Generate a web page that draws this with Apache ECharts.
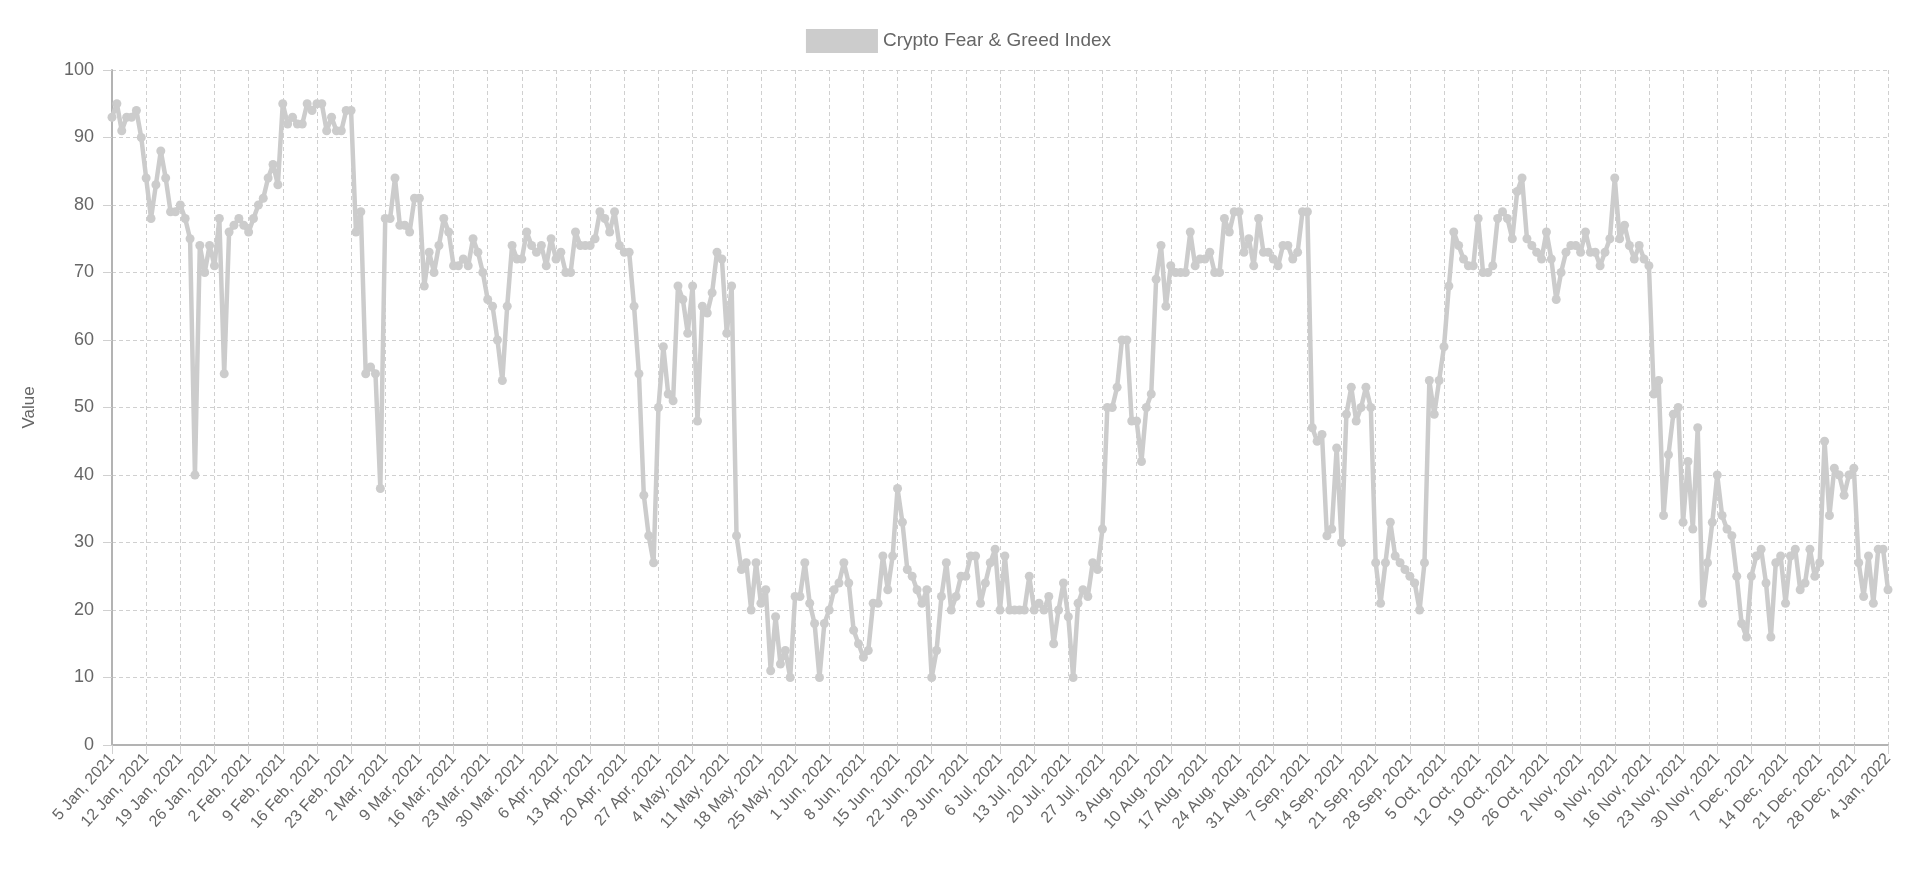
<!DOCTYPE html>
<html>
<head>
<meta charset="utf-8">
<script src="https://cdn.jsdelivr.net/npm/echarts@6/dist/echarts.min.js"></script>
<style>
html,body{margin:0;padding:0;background:#fff;}
#chart{width:1917px;height:887px;}
</style>
</head>
<body>
<div id="chart"></div>
<script>
// Daily index values, 5 Jan 2021 .. 4 Jan 2022
const seriesName = 'Crypto Fear & Greed Index';
const startDate = [2021, 0, 5];
const valuesQ1 = [
  93,95,91,93,93,94,90, 84,78,83,88,84,79,79, 80,78,75,40,74,70,74,
  71,78,55,76,77,78,77, 76,78,80,81,84,86,83, 95,92,93,92,92,95,94,
  95,95,91,93,91,91,94, 94,76,79,55,56,55,38, 78,78,84,77,77,76,81,
  81,68,73,70,74,78,76, 71,71,72,71,75,73,70, 66,65,60,54,65,74,72,
  72,76,74,73,74,71,75
];
const valuesQ2 = [
  72,73,70,70,76,74,74, 74,75,79,78,76,79,74, 73,73,65,55,37,31,27,
  50,59,52,51,68,66,61, 68,48,65,64,67,73,72, 61,68,31,26,27,20,27,
  21,23,11,19,12,14,10, 22,22,27,21,18,10,18, 20,23,24,27,24,17,15,
  13,14,21,21,28,23,28, 38,33,26,25,23,21,23, 10,14,22,27,20,22,25,
  25,28,28,21,24,27,29
];
const valuesQ3 = [
  20,28,20,20,20,20,25, 20,21,20,22,15,20,24, 19,10,21,23,22,27,26,
  32,50,50,53,60,60,48, 48,42,50,52,69,74,65, 71,70,70,70,76,71,72,
  72,73,70,70,78,76,79, 79,73,75,71,78,73,73, 72,71,74,74,72,73,79,
  79,47,45,46,31,32,44, 30,49,53,48,50,53,50, 27,21,27,33,28,27,26,
  25,24,20,27,54,49,54
];
const valuesQ4 = [
  59,68,76,74,72,71,71, 78,70,70,71,78,79,78, 75,82,84,75,74,73,72,
  76,72,66,70,73,74,74, 73,76,73,73,71,73,75, 84,75,77,74,72,74,72,
  71,52,54,34,43,49,50, 33,42,32,47,21,27,33, 40,34,32,31,25,18,16,
  25,28,29,24,16,27,28, 21,28,29,23,24,29,25, 27,45,34,41,40,37,40,
  41,27,22,28,21,29,29, 23
];
const monthNames = ['Jan','Feb','Mar','Apr','May','Jun','Jul','Aug','Sep','Oct','Nov','Dec'];
const yTicks = {min: 0, max: 100, interval: 10};
const yAxisName = 'Value';

const values = valuesQ1.concat(valuesQ2, valuesQ3, valuesQ4);
const categories = values.map((v, i) => {
  const d = new Date(startDate[0], startDate[1], startDate[2] + i);
  return d.getDate() + ' ' + monthNames[d.getMonth()] + ', ' + d.getFullYear();
});
const weekly = (idx) => idx % 7 === 0;

const chart = echarts.init(document.getElementById('chart'), null, {renderer: 'canvas'});
const font = 'Liberation Sans, Arial, Helvetica, sans-serif';
chart.setOption({
  animation: false,
  textStyle: {fontFamily: font},
  legend: {
    top: 24,
    left: 'center',
    itemWidth: 72,
    itemHeight: 24,
    itemGap: 9,
    icon: 'rect',
    textStyle: {color: '#666', fontSize: 19, fontFamily: font},
    data: [seriesName]
  },
  grid: {left: 112, right: 29, top: 70, bottom: 142, containLabel: false},
  xAxis: {
    type: 'category',
    data: categories,
    boundaryGap: false,
    axisLine: {show: true, lineStyle: {color: '#b3b3b3', width: 2}},
    axisTick: {show: true, interval: weekly, length: 9, lineStyle: {color: '#d0d0d0', width: 1}},
    axisLabel: {
      interval: weekly,
      rotate: 48,
      color: '#666',
      fontSize: 16,
      fontFamily: font,
      margin: 11
    },
    splitLine: {show: true, interval: weekly, lineStyle: {color: '#d0d0d0', width: 1, type: [4, 3]}}
  },
  yAxis: {
    type: 'value',
    min: yTicks.min,
    max: yTicks.max,
    interval: yTicks.interval,
    name: yAxisName,
    nameLocation: 'middle',
    nameGap: 74,
    nameRotate: 90,
    nameTextStyle: {color: '#666', fontSize: 17, fontFamily: font},
    axisLine: {show: true, lineStyle: {color: '#b3b3b3', width: 2}},
    axisTick: {show: true, length: 9, lineStyle: {color: '#d0d0d0', width: 1}},
    axisLabel: {color: '#666', fontSize: 18, fontFamily: font, margin: 18},
    splitLine: {show: true, lineStyle: {color: '#d0d0d0', width: 1, type: [4, 3]}}
  },
  series: [{
    name: seriesName,
    type: 'line',
    data: values,
    symbol: 'circle',
    symbolSize: 9,
    showAllSymbol: true,
    itemStyle: {color: '#cccccc'},
    lineStyle: {color: '#cccccc', width: 4.5},
    emphasis: {disabled: true}
  }]
});
</script>
</body>
</html>
